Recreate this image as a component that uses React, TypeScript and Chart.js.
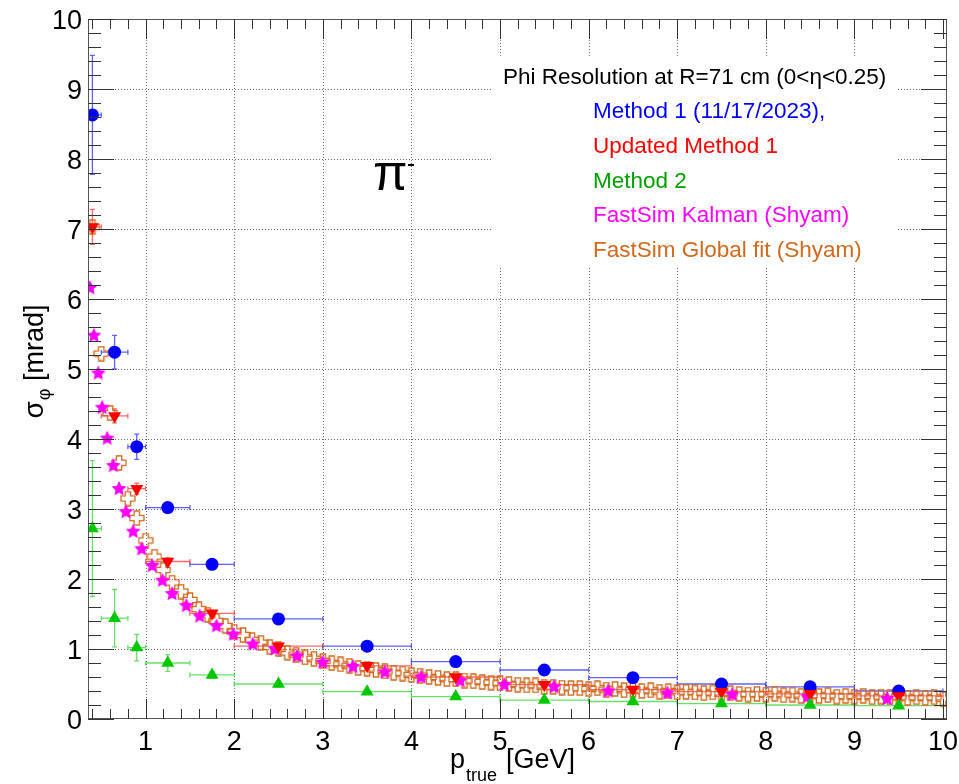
import React, { useEffect, useRef } from "react";
import { Chart, registerables } from "chart.js";

Chart.register(...registerables);

// ---------- data ----------
const binCenters = [0.4, 0.65, 0.9, 1.25, 1.75, 2.5, 3.5, 4.5, 5.5, 6.5, 7.5, 8.5, 9.5];
const binLow = [0.3, 0.5, 0.8, 1.0, 1.5, 2, 3, 4, 5, 6, 7, 8, 9];
const binHigh = [0.5, 0.8, 1.0, 1.5, 2, 3, 4, 5, 6, 7, 8, 9, 10];

const method1Sigma = [8.63, 5.24, 3.89, 3.02, 2.21, 1.43, 1.04, 0.82, 0.70, 0.59, 0.50, 0.46, 0.40];
const method1Err = [0.85, 0.24, 0.18, 0.06, 0.05, 0.04, 0.03, 0.03, 0.03, 0.03, 0.03, 0.03, 0.03];

const updatedSigma = [7.03, 4.33, 3.29, 2.25, 1.51, 1.04, 0.76, 0.60, 0.49, 0.42, 0.39, 0.36, 0.33];
const updatedErr = [0.25, 0.1, 0.08, 0.05, 0.04, 0.03, 0.02, 0.02, 0.02, 0.02, 0.02, 0.02, 0.02];

const method2Sigma = [2.72, 1.44, 1.02, 0.80, 0.63, 0.50, 0.39, 0.32, 0.27, 0.25, 0.22, 0.20, 0.19];
const method2Err = [0.97, 0.41, 0.19, 0.12, 0.05, 0.04, 0.03, 0.03, 0.03, 0.03, 0.03, 0.03, 0.03];

const kalmanP = [0.372, 0.417, 0.466, 0.51, 0.567, 0.635, 0.70, 0.778, 0.86, 0.955, 1.075, 1.19, 1.30, 1.46, 1.61, 1.80, 1.99, 2.21, 2.46, 2.71, 3.00, 3.34, 3.70, 4.11, 4.55, 5.05, 5.61, 6.22, 6.89, 7.62, 8.47, 9.37];
const kalmanSigma = [6.17, 5.49, 4.95, 4.46, 4.02, 3.63, 3.30, 2.97, 2.69, 2.44, 2.20, 1.99, 1.80, 1.63, 1.48, 1.34, 1.22, 1.08, 1.01, 0.91, 0.82, 0.76, 0.68, 0.61, 0.56, 0.50, 0.47, 0.41, 0.38, 0.36, 0.33, 0.30];

const globalFitP = [
  0.4, 0.5, 0.6, 0.7, 0.8, 0.9, 1.0, 1.1, 1.2, 1.3, 1.4, 1.5, 1.6, 1.7, 1.8, 1.9,
  2.0, 2.1, 2.2, 2.3, 2.4, 2.5, 2.6, 2.7, 2.8, 2.9, 3.0, 3.1, 3.2, 3.3, 3.4, 3.5,
  3.6, 3.7, 3.8, 3.9, 4.0, 4.1, 4.2, 4.3, 4.4, 4.5, 4.6, 4.7, 4.8, 4.9, 5.0, 5.1,
  5.2, 5.3, 5.4, 5.5, 5.6, 5.7, 5.8, 5.9, 6.0, 6.1, 6.2, 6.3, 6.4, 6.5, 6.6, 6.7,
  6.8, 6.9, 7.0, 7.1, 7.2, 7.3, 7.4, 7.5, 7.6, 7.7, 7.8, 7.9, 8.0, 8.1, 8.2, 8.3,
  8.4, 8.5, 8.6, 8.7, 8.8, 8.9, 9.0, 9.1, 9.2, 9.3, 9.4, 9.5, 9.6, 9.7, 9.8, 9.9, 10.0,
];
const globalFitSigma = [
  7.03, 5.22, 4.37, 3.66, 3.15, 2.87, 2.55, 2.32, 2.13, 1.95, 1.82, 1.70, 1.57, 1.49, 1.40, 1.33,
  1.25, 1.20, 1.13, 1.09, 1.03, 1.00, 0.95, 0.92, 0.88, 0.86, 0.83, 0.80, 0.78, 0.76, 0.73, 0.72,
  0.70, 0.68, 0.66, 0.65, 0.63, 0.62, 0.60, 0.59, 0.57, 0.57, 0.55, 0.54, 0.53, 0.52, 0.51, 0.50,
  0.49, 0.48, 0.48, 0.46, 0.46, 0.45, 0.44, 0.44, 0.43, 0.44, 0.42, 0.43, 0.41, 0.42, 0.40, 0.41,
  0.39, 0.40, 0.38, 0.39, 0.38, 0.37, 0.38, 0.36, 0.37, 0.36, 0.35, 0.36, 0.35, 0.36, 0.34, 0.35,
  0.33, 0.34, 0.33, 0.34, 0.32, 0.33, 0.32, 0.33, 0.31, 0.32, 0.31, 0.32, 0.30, 0.31, 0.30, 0.31, 0.29,
];

const xTickValues = [1, 2, 3, 4, 5, 6, 7, 8, 9, 10];
const yTickValues = [0, 1, 2, 3, 4, 5, 6, 7, 8, 9, 10];

const legendTitle = "Phi Resolution at R=71 cm (0<η<0.25)";
const legendEntries = [
  "Method 1 (11/17/2023),",
  "Updated Method 1",
  "Method 2",
  "FastSim Kalman (Shyam)",
  "FastSim Global fit (Shyam)",
];

// ---------- styles ----------
const BLUE = "#0000ff";
const RED = "#ff0000";
const GREEN = "#00c800";
const GREEN_TEXT = "#00a000";
const MAGENTA = "#ff00ff";
const ORANGE = "#d2691e";
const legendColors = [BLUE, RED, GREEN_TEXT, MAGENTA, ORANGE];
const FONT = "'Liberation Sans', Arial, Helvetica, sans-serif";

function makeStar(color: string, size: number) {
  const c = document.createElement("canvas");
  c.width = size;
  c.height = size;
  const g = c.getContext("2d")!;
  const cx = size / 2, cy = size / 2;
  const ro = size / 2 - 0.2, ri = ro * 0.48;
  g.beginPath();
  for (let i = 0; i < 10; i++) {
    const r = i % 2 === 0 ? ro : ri;
    const a = -Math.PI / 2 + (i * Math.PI) / 5;
    const px = cx + r * Math.cos(a), py = cy + r * Math.sin(a) + 0.9;
    if (i === 0) g.moveTo(px, py); else g.lineTo(px, py);
  }
  g.closePath();
  g.fillStyle = color;
  g.fill();
  return c;
}

function makeOpenCross(color: string, size: number) {
  const c = document.createElement("canvas");
  c.width = size;
  c.height = size;
  const g = c.getContext("2d")!;
  const m = size / 2;
  const L = size / 2 - 1, w = size / 6;
  g.beginPath();
  const pts = [
    [-w, -L], [w, -L], [w, -w], [L, -w], [L, w], [w, w], [w, L], [-w, L], [-w, w], [-L, w], [-L, -w], [-w, -w],
  ];
  pts.forEach(([a, b], i) => (i === 0 ? g.moveTo(m + a, m + b) : g.lineTo(m + a, m + b)));
  g.closePath();
  g.strokeStyle = color;
  g.lineWidth = 1.3;
  g.stroke();
  return c;
}

export default function App() {
  const ref = useRef<HTMLCanvasElement>(null);

  useEffect(() => {
    const canvas = ref.current!;
    const star = makeStar(MAGENTA, 16);
    const cross = makeOpenCross(ORANGE, 16);

    const errorSets = [
      { x: binCenters, lo: binLow, hi: binHigh, y: method1Sigma, e: method1Err, color: "rgba(30,30,255,0.7)" },
      { x: binCenters, lo: binLow, hi: binHigh, y: updatedSigma, e: updatedErr, color: "rgba(255,40,40,0.7)" },
      { x: binCenters, lo: binLow, hi: binHigh, y: method2Sigma, e: method2Err, color: "rgba(40,210,40,0.7)" },
    ];

    const backgroundPlugin = {
      id: "rootBackground",
      beforeDatasetsDraw(chart: any) {
        const { ctx, chartArea: a, scales } = chart;
        const xs = scales.x, ys = scales.y;
        ctx.save();
        // grid
        ctx.strokeStyle = "#6a6a6a";
        ctx.lineWidth = 1;
        ctx.setLineDash([1, 2]);
        for (const v of xTickValues) {
          if (v >= 10) continue;
          const px = Math.round(xs.getPixelForValue(v)) + 0.5;
          ctx.beginPath();
          ctx.moveTo(px, a.top);
          ctx.lineTo(px, a.bottom);
          ctx.stroke();
        }
        for (const v of yTickValues) {
          if (v <= 0 || v >= 10) continue;
          const py = Math.round(ys.getPixelForValue(v)) + 0.5;
          ctx.beginPath();
          ctx.moveTo(a.left, py);
          ctx.lineTo(a.right, py);
          ctx.stroke();
        }
        ctx.setLineDash([]);
        // legend box (white, no border)
        ctx.fillStyle = "#ffffff";
        ctx.fillRect(492, 57, 405, 211);
        ctx.font = `22.5px ${FONT}`;
        ctx.textBaseline = "alphabetic";
        ctx.textAlign = "left";
        ctx.fillStyle = "#000000";
        ctx.fillText(legendTitle, 503, 84);
        const baselines = [118, 153, 188, 222, 257];
        legendEntries.forEach((t, i) => {
          ctx.fillStyle = legendColors[i];
          ctx.fillText(t, 593, baselines[i]);
        });
        // pi label
        ctx.fillStyle = "#000000";
        ctx.font = `50px ${FONT}`;
        ctx.fillText("π", 373, 190);
        ctx.fillRect(408, 164, 6, 2);
        ctx.restore();

        // error bars
        ctx.save();
        ctx.beginPath();
        ctx.rect(a.left, a.top, a.right - a.left, a.bottom - a.top);
        ctx.clip();
        ctx.lineWidth = 1.3;
        for (const s of errorSets) {
          ctx.strokeStyle = s.color;
          for (let i = 0; i < s.x.length; i++) {
            const px = xs.getPixelForValue(s.x[i]);
            const py = ys.getPixelForValue(s.y[i]);
            const pl = xs.getPixelForValue(s.lo[i]);
            const ph = xs.getPixelForValue(s.hi[i]);
            const pt = ys.getPixelForValue(s.y[i] + s.e[i]);
            const pb = ys.getPixelForValue(s.y[i] - s.e[i]);
            ctx.beginPath();
            ctx.moveTo(pl, py); ctx.lineTo(ph, py);
            ctx.moveTo(pl, py - 2.5); ctx.lineTo(pl, py + 2.5);
            ctx.moveTo(ph, py - 2.5); ctx.lineTo(ph, py + 2.5);
            ctx.moveTo(px, pt); ctx.lineTo(px, pb);
            ctx.moveTo(px - 2.5, pt); ctx.lineTo(px + 2.5, pt);
            ctx.moveTo(px - 2.5, pb); ctx.lineTo(px + 2.5, pb);
            ctx.stroke();
          }
        }
        ctx.restore();
      },
      afterDraw(chart: any) {
        const { ctx, chartArea: a, scales } = chart;
        const xs = scales.x, ys = scales.y;
        ctx.save();
        // frame
        ctx.strokeStyle = "#555555";
        ctx.lineWidth = 1;
        ctx.strokeRect(a.left + 0.5, a.top + 0.5, a.right - a.left - 1, a.bottom - a.top - 1);
        // ticks
        ctx.strokeStyle = "#333333";
        ctx.beginPath();
        for (let k = 2; k <= 50; k++) {
          const v = k / 5;
          const px = Math.round(xs.getPixelForValue(v)) + 0.5;
          if (px < a.left || px > a.right) continue;
          const len = k % 5 === 0 ? 20 : 10;
          ctx.moveTo(px, a.bottom); ctx.lineTo(px, a.bottom - len);
          ctx.moveTo(px, a.top); ctx.lineTo(px, a.top + len);
        }
        for (let k = 0; k <= 50; k++) {
          const v = k / 5;
          const py = Math.round(ys.getPixelForValue(v)) + 0.5;
          const len = k % 5 === 0 ? 26 : 13;
          ctx.moveTo(a.left, py); ctx.lineTo(a.left + len, py);
          ctx.moveTo(a.right, py); ctx.lineTo(a.right - len, py);
        }
        ctx.stroke();

        // tick labels
        ctx.fillStyle = "#000000";
        ctx.font = `27px ${FONT}`;
        ctx.textBaseline = "alphabetic";
        ctx.textAlign = "right";
        for (const v of yTickValues) {
          ctx.fillText(String(v), a.left - 6, ys.getPixelForValue(v) + 10);
        }
        ctx.textAlign = "center";
        for (const v of xTickValues) {
          ctx.fillText(String(v), xs.getPixelForValue(v), 750);
        }

        // x title: p_{true}[GeV]
        ctx.textAlign = "left";
        ctx.font = `27px ${FONT}`;
        ctx.fillText("p", 450, 768);
        ctx.font = `18px ${FONT}`;
        ctx.fillText("true", 466, 781);
        ctx.font = `27px ${FONT}`;
        ctx.fillText("[GeV]", 506, 768);

        // y title: sigma_phi [mrad]
        ctx.save();
        ctx.translate(43, 0);
        ctx.rotate(-Math.PI / 2);
        ctx.font = `28px ${FONT}`;
        const w1 = ctx.measureText("σ").width;
        ctx.font = `18px ${FONT}`;
        const w2 = ctx.measureText("φ").width;
        ctx.font = `27px ${FONT}`;
        const w3 = ctx.measureText(" [mrad]").width;
        const total = w1 + w2 + w3;
        const x0 = -362 - total / 2;
        ctx.font = `28px ${FONT}`;
        ctx.fillText("σ", x0, 0);
        ctx.font = `18px ${FONT}`;
        ctx.fillText("φ", x0 + w1 + 1, 7);
        ctx.font = `27px ${FONT}`;
        ctx.fillText(" [mrad]", x0 + w1 + w2 + 1, 0);
        ctx.restore();

        ctx.restore();
      },
    };

    const toPts = (xs: number[], ys: number[]) => xs.map((x, i) => ({ x, y: ys[i] }));

    const chart = new Chart(canvas, {
      type: "scatter",
      data: {
        datasets: [
          {
            label: "Method 2",
            data: toPts(binCenters, method2Sigma),
            pointStyle: "triangle",
            pointRadius: 7.5,
            backgroundColor: GREEN,
            borderColor: GREEN,
            borderWidth: 0,
            order: 1,
          },
          {
            label: "Updated Method 1",
            data: toPts(binCenters, updatedSigma),
            pointStyle: "triangle",
            rotation: 180,
            pointRadius: 7.5,
            backgroundColor: RED,
            borderColor: RED,
            borderWidth: 0,
            order: 2,
          },
          {
            label: "Method 1 (11/17/2023),",
            data: toPts(binCenters, method1Sigma),
            pointStyle: "circle",
            pointRadius: 6.5,
            backgroundColor: BLUE,
            borderColor: BLUE,
            borderWidth: 0,
            order: 3,
          },
          {
            label: "FastSim Kalman (Shyam)",
            data: toPts(kalmanP, kalmanSigma),
            pointStyle: star as any,
            pointRadius: 8,
            backgroundColor: MAGENTA,
            borderColor: MAGENTA,
            order: 4,
          },
          {
            label: "FastSim Global fit (Shyam)",
            data: toPts(globalFitP, globalFitSigma),
            pointStyle: cross as any,
            pointRadius: 8,
            backgroundColor: "rgba(0,0,0,0)",
            borderColor: ORANGE,
            order: 5,
          },
        ],
      },
      options: {
        responsive: false,
        animation: false,
        devicePixelRatio: 1,
        layout: { padding: { left: 0, top: 19, right: 12, bottom: 0 } },
        plugins: { legend: { display: false }, tooltip: { enabled: false } },
        scales: {
          x: {
            type: "linear",
            min: 0.35,
            max: 10.045,
            grid: { display: false, drawTicks: false },
            border: { display: false },
            ticks: { display: false },
            afterFit: (s: any) => {
              s.height = 65;
            },
          },
          y: {
            type: "linear",
            min: 0,
            max: 10,
            grid: { display: false, drawTicks: false },
            border: { display: false },
            ticks: { display: false },
            afterFit: (s: any) => {
              s.width = 88;
            },
          },
        },
      },
      plugins: [backgroundPlugin],
    });

    return () => chart.destroy();
  }, []);

  return (
    <div style={{ position: "absolute", left: 0, top: 0, width: 959, height: 784, background: "#fff" }}>
      <canvas ref={ref} width={959} height={784} style={{ display: "block", width: 959, height: 784 }} />
    </div>
  );
}
